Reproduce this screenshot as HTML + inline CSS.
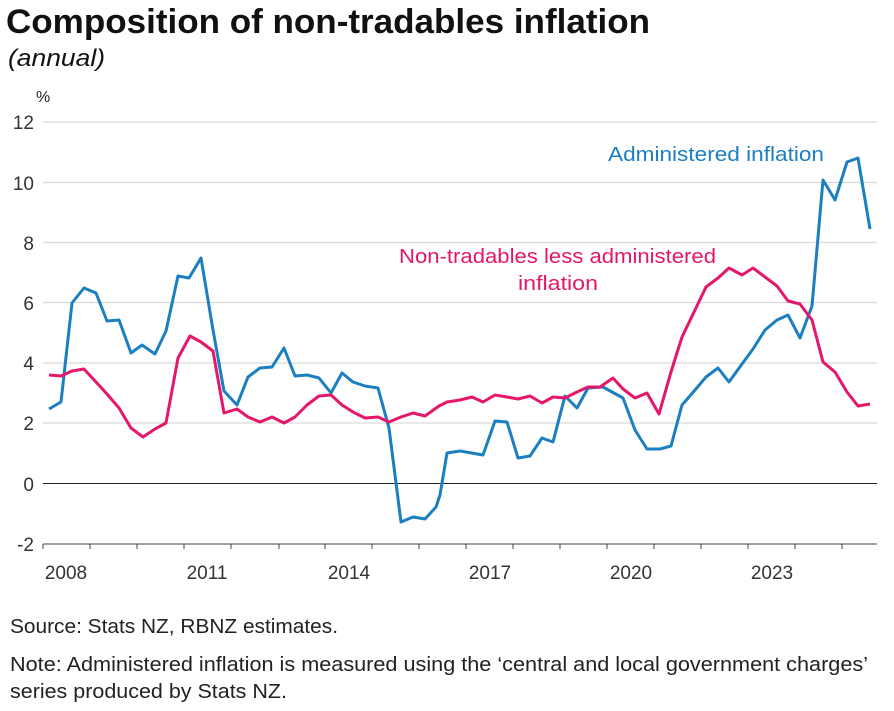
<!DOCTYPE html>
<html><head><meta charset="utf-8"><style>
body{margin:0;background:#fff;width:894px;height:706px;overflow:hidden;font-family:"Liberation Sans",sans-serif}
</style></head><body>
<svg width="894" height="706" xmlns="http://www.w3.org/2000/svg" font-family="Liberation Sans, sans-serif">
<text x="6" y="33" font-size="34" font-weight="bold" fill="#111" textLength="644" lengthAdjust="spacingAndGlyphs">Composition of non-tradables inflation</text>
<text x="8" y="66" font-size="24" font-style="italic" fill="#111" textLength="97" lengthAdjust="spacingAndGlyphs">(annual)</text>
<text x="36" y="102" font-size="16" fill="#222">%</text>
<g stroke="#d9d9d9" stroke-width="1.2">
<line x1="43" x2="877" y1="122" y2="122"/><line x1="43" x2="877" y1="182.5" y2="182.5"/>
<line x1="43" x2="877" y1="242.5" y2="242.5"/><line x1="43" x2="877" y1="302.5" y2="302.5"/>
<line x1="43" x2="877" y1="363" y2="363"/><line x1="43" x2="877" y1="423" y2="423"/>
</g>
<line x1="43" x2="877" y1="483.5" y2="483.5" stroke="#222" stroke-width="1"/>
<line x1="43" x2="877" y1="544" y2="544" stroke="#444" stroke-width="1"/>
<g stroke="#444" stroke-width="1">
<line x1="43" x2="43" y1="544" y2="549"/><line x1="90" x2="90" y1="544" y2="549"/><line x1="137" x2="137" y1="544" y2="549"/><line x1="184" x2="184" y1="544" y2="549"/><line x1="231" x2="231" y1="544" y2="549"/><line x1="279" x2="279" y1="544" y2="549"/><line x1="325" x2="325" y1="544" y2="549"/><line x1="372" x2="372" y1="544" y2="549"/><line x1="419" x2="419" y1="544" y2="549"/><line x1="466" x2="466" y1="544" y2="549"/><line x1="513" x2="513" y1="544" y2="549"/><line x1="560" x2="560" y1="544" y2="549"/><line x1="607" x2="607" y1="544" y2="549"/><line x1="654" x2="654" y1="544" y2="549"/><line x1="701" x2="701" y1="544" y2="549"/><line x1="748" x2="748" y1="544" y2="549"/><line x1="795" x2="795" y1="544" y2="549"/><line x1="842" x2="842" y1="544" y2="549"/>
</g>
<g font-size="19" fill="#333" text-anchor="end">
<text x="34" y="129">12</text><text x="34" y="190">10</text><text x="34" y="250">8</text><text x="34" y="310">6</text><text x="34" y="370">4</text><text x="34" y="430">2</text><text x="34" y="491">0</text><text x="34" y="551">-2</text>
</g>
<g font-size="19" fill="#333" text-anchor="middle">
<text x="66" y="579">2008</text><text x="207" y="579">2011</text><text x="349" y="579">2014</text><text x="490" y="579">2017</text><text x="631" y="579">2020</text><text x="772" y="579">2023</text>
</g>
<polyline fill="none" stroke="#1b7fc0" stroke-width="3" stroke-linejoin="round" points="49,409 61,402 72,303 84,288 96,293 107,321 119,320 131,353 142,345 155,354 166,331 178,276 189,278 201,258 213,330 224,391 237,405 248,377 260,368 272,367 284,348 295,376 307,375 319,378 331,393 342,373 353,382 365,386 378,388 389,428 401,522 413,517 425,519 436,507 440,495 447,453 460,451 483,455 495,421 507,422 518,458 530,456 542,438 553,442 565,396 577,408 588,388 603,387 623,398 635,430 647,449 660,449 671,446 682,405 695,390 706,377 718,368 729,382 742,364 753,349 765,330 777,320 788,315 800,338 812,306 823,180 835,200 847,162 858,158 870,229"/>
<polyline fill="none" stroke="#e5176b" stroke-width="3" stroke-linejoin="round" points="49,375 61,376 72,371 84,369 96,382 107,394 119,408 131,428 143,437 155,429 166,423 178,358 190,336 201,342 213,351 224,413 237,409 248,417 260,422 272,417 284,423 295,417 307,405 319,396 331,395 342,405 353,412 365,418 378,417 389,422 401,417 413,413 425,416 439,406 447,402 460,400 472,397 483,402 495,395 507,397 518,399 530,396 542,403 553,397 565,398 577,392 588,387 600,387 613,378 623,389 635,398 647,393 659,414 671,372 682,337 695,310 706,287 718,278 729,268 742,275 753,268 765,277 777,286 788,301 800,304 812,320 823,362 835,372 847,392 858,406 870,404"/>
<text x="608" y="161" font-size="20" fill="#1b7fc0" textLength="216" lengthAdjust="spacingAndGlyphs">Administered inflation</text>
<text x="399" y="263" font-size="20" fill="#e5176b" textLength="317" lengthAdjust="spacingAndGlyphs">Non-tradables less administered</text>
<text x="518" y="290" font-size="20" fill="#e5176b" textLength="80" lengthAdjust="spacingAndGlyphs">inflation</text>
<text x="10" y="633" font-size="20" fill="#222" textLength="328" lengthAdjust="spacingAndGlyphs">Source: Stats NZ, RBNZ estimates.</text>
<text x="10" y="671" font-size="20" fill="#222" textLength="858" lengthAdjust="spacingAndGlyphs">Note: Administered inflation is measured using the ‘central and local government charges’</text>
<text x="10" y="698" font-size="20" fill="#222" textLength="277" lengthAdjust="spacingAndGlyphs">series produced by Stats NZ.</text>
</svg>
</body></html>
